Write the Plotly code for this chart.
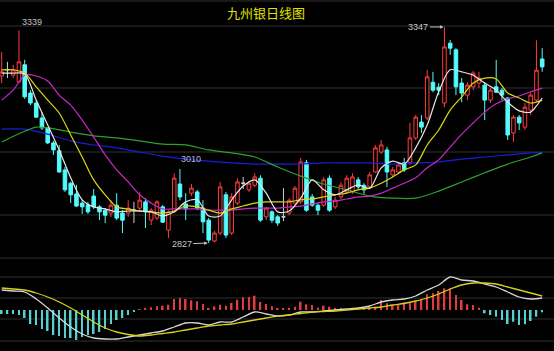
import plotly.graph_objects as go

# ---------------- data ----------------
IDX = list(range(95))
OPEN = [3229, 3244, 3231, 3215, 3256, 3188, 3164, 3128, 3104, 3068,
        3049, 3003, 2971, 2945, 2923, 2919, 2940, 2914, 2906, 2899,
        2918, 2899, 2899, 2906, 2911, 2926, 2882, 2887, 2914, 2858,
        2902, 2969, 2921, 2947, 2950, 2911, 2882, 2832, 2851, 2943,
        2851, 2923, 2971, 2955, 2966, 2983, 2890, 2902, 2890, 2890,
        2899, 2923, 2926, 3020, 2938, 2918, 2918, 2983, 2914, 2938,
        2950, 2950, 2979, 2966, 2962, 2998, 3046, 3051, 2991, 2998,
        3020, 3020, 3080, 3118, 3128, 3214, 3202, 3164, 3308, 3292,
        3212, 3183, 3203, 3212, 3207, 3171, 3203, 3195, 3176, 3092,
        3130, 3106, 3147, 3171, 3270]
HIGH = [3287, 3263, 3256, 3339, 3268, 3195, 3171, 3142, 3106, 3073,
        3063, 3010, 2974, 2967, 2931, 2926, 2957, 2918, 2911, 2930,
        2947, 2906, 2930, 2926, 2949, 2935, 2911, 2930, 2918, 2906,
        2995, 3005, 2947, 2969, 2955, 2930, 2887, 2856, 2974, 2950,
        2947, 2983, 2986, 2976, 2995, 2990, 2914, 2906, 2894, 2959,
        2935, 2964, 3032, 3027, 2945, 2923, 2986, 2990, 2938, 2974,
        2990, 2995, 2986, 2971, 2998, 3063, 3075, 3058, 3010, 3020,
        3032, 3116, 3135, 3135, 3244, 3239, 3212, 3347, 3316, 3296,
        3224, 3214, 3241, 3239, 3214, 3200, 3268, 3200, 3178, 3135,
        3135, 3164, 3190, 3315, 3296]
LOW = [3212, 3224, 3224, 3212, 3174, 3159, 3128, 3099, 3065, 3039,
       2996, 2950, 2923, 2914, 2897, 2897, 2909, 2882, 2875, 2890,
       2882, 2851, 2890, 2875, 2902, 2863, 2870, 2882, 2875, 2839,
       2899, 2930, 2882, 2940, 2906, 2851, 2827, 2829, 2846, 2839,
       2846, 2918, 2957, 2950, 2962, 2878, 2882, 2875, 2868, 2880,
       2894, 2918, 2921, 2902, 2914, 2894, 2914, 2902, 2909, 2933,
       2945, 2945, 2955, 2945, 2957, 2996, 3041, 2962, 2986, 2993,
       2998, 3015, 3075, 3092, 3123, 3190, 3183, 3154, 3280, 3183,
       3166, 3171, 3195, 3200, 3123, 3164, 3188, 3171, 3075, 3070,
       3099, 3099, 3135, 3166, 3239]
CLOSE = [3239, 3244, 3244, 3263, 3179, 3164, 3130, 3104, 3068, 3051,
         2998, 2955, 2943, 2916, 2914, 2902, 2914, 2902, 2894, 2918,
         2887, 2882, 2911, 2906, 2930, 2902, 2906, 2926, 2877, 2902,
         2983, 2938, 2909, 2959, 2911, 2878, 2834, 2851, 2962, 2846,
         2938, 2974, 2971, 2971, 2986, 2882, 2911, 2882, 2875, 2890,
         2930, 2959, 3022, 2906, 2918, 2906, 2979, 2906, 2930, 2966,
         2983, 2986, 2962, 2955, 2991, 3056, 3063, 2998, 3003, 3015,
         3003, 3080, 3130, 3106, 3227, 3195, 3195, 3299, 3296, 3203,
         3188, 3207, 3236, 3224, 3171, 3195, 3190, 3183, 3087, 3130,
         3116, 3154, 3183, 3243, 3251]

# moving averages (sampled along the lines)
MA5_X = list(range(0, 93, 2)) + [93, 94]
MA5 = [3236, 3236, 3234, 3171, 3111, 3051, 2984, 2931, 2914, 2909,
       2902, 2904, 2904, 2902, 2892, 2902, 2926, 2931, 2892, 2892,
       2931, 2964, 2979, 2947, 2902, 2904, 2935, 2979, 2955, 2943,
       2955, 2967, 2959, 3008, 3024, 3017, 3056, 3111, 3191, 3244,
       3239, 3231, 3212, 3195, 3166, 3145, 3142, 3157, 3176]
MA10_X = list(range(0, 95, 2))
MA10 = [3244, 3244, 3236, 3203, 3171, 3140, 3087, 3034, 2979, 2943,
        2914, 2909, 2904, 2902, 2899, 2904, 2916, 2914, 2906, 2899,
        2909, 2916, 2923, 2926, 2926, 2926, 2931, 2933, 2938, 2943,
        2947, 2955, 2959, 2971, 2986, 3003, 3015, 3063, 3099, 3147,
        3179, 3212, 3224, 3222, 3188, 3176, 3164, 3171]
MA20_X = list(range(0, 95, 2))
MA20 = [3171, 3195, 3231, 3229, 3217, 3183, 3159, 3123, 3082, 3039,
        3003, 2974, 2943, 2923, 2909, 2909, 2909, 2909, 2906, 2906,
        2906, 2909, 2911, 2911, 2911, 2914, 2916, 2921, 2926, 2928,
        2933, 2938, 2940, 2947, 2959, 2971, 2984, 3008, 3027, 3058,
        3089, 3116, 3142, 3162, 3174, 3181, 3191, 3200]
MA60_X = [0, 3, 6, 8, 12, 16, 20, 24, 28, 32, 36, 40, 44, 48, 52, 56, 60,
          64, 68, 72, 76, 80, 84, 88, 92, 94]
MA60 = [3070, 3090, 3106, 3104, 3094, 3085, 3080, 3073, 3065, 3063, 3051,
        3044, 3034, 3010, 2988, 2969, 2955, 2940, 2935, 2935, 2952, 2974,
        2996, 3017, 3034, 3044]
MA120_X = list(range(0, 93, 4)) + [94]
MA120 = [3101, 3101, 3089, 3073, 3063, 3056, 3046, 3036, 3029, 3024,
         3020, 3017, 3017, 3017, 3020, 3020, 3020, 3017, 3020, 3022,
         3029, 3034, 3039, 3044, 3046]

# MACD panel
MACD_HIST = [-4, -4, -4, -5, -8, -14, -15, -19, -21, -25,
             -26, -28, -28, -30, -27, -25, -24, -22, -19, -14,
             -10, -8, -5, -1.5, 0.5, 1.3, 2.7, 3.7, 4.3, 5.3,
             11, 12, 11, 9.7, 8.7, 6, 2, 3.7, 5.3, 4.3,
             7, 10.3, 12.7, 13, 14.3, 8, 6, 3.7, 2, 2,
             2, 3.3, 8.3, 5.7, 5, 2.3, 4.3, 3.3, 1.5, 1.5,
             1, 2, 1.5, 2, 2.5, 3.3, 10, 6.7, 5, 5,
             7.7, 6.7, 8.3, 10, 15.7, 16.7, 19, 21.7, 21.7, 15,
             10, 5.7, 5, 2.3, -3.3, -5, -6.7, -10, -14, -11.7,
             -15, -14.3, -11, -6.7, -2.3]
MACD_X = list(range(0, 95, 2))
DIF = [20, 19, 18, 11, 2, -8, -17, -24, -28, -29,
       -29, -27, -25, -23, -21, -17, -13, -13, -15, -12,
       -12, -7, -2, -4, -6, -5, -2, -2, -1, 0,
       1, 2, 4, 8, 10, 11, 14, 20, 25, 33,
       30, 29, 26, 23, 18, 13, 11, 12]
DEA = [22, 21, 20, 17, 13, 8, 2, -5, -12, -18,
       -22, -24.5, -26, -25, -23.5, -22, -20, -18, -16, -15,
       -14, -12, -10, -8, -6, -5, -3.5, -2, -1.5, -1,
       0, 1, 2, 3, 5, 6.5, 9, 12, 16, 21,
       25, 27, 27, 26, 23, 20, 17, 14]

TITLE = "九州银日线图"

# ---------------- styling ----------------
W, H = 554, 351
RED = "#ff3c3c"
CYAN = "#54fcfc"
GRID = "#303030"
MAIN_BOTTOM_PX = 258

fig = go.Figure()

reg = [i for i in IDX if OPEN[i] != CLOSE[i]]
doji = [i for i in IDX if OPEN[i] == CLOSE[i]]

fig.add_trace(go.Candlestick(
    x=[IDX[i] for i in reg], open=[OPEN[i] for i in reg], high=[HIGH[i] for i in reg],
    low=[LOW[i] for i in reg], close=[CLOSE[i] for i in reg],
    increasing=dict(line=dict(color=RED, width=1), fillcolor="#000000"),
    decreasing=dict(line=dict(color=CYAN, width=1), fillcolor=CYAN),
    xaxis="x", yaxis="y", showlegend=False, hoverinfo="skip"))
fig.add_trace(go.Candlestick(
    x=[IDX[i] for i in doji], open=[OPEN[i] for i in doji], high=[HIGH[i] for i in doji],
    low=[LOW[i] for i in doji], close=[CLOSE[i] for i in doji],
    increasing=dict(line=dict(color="#d0d0d0", width=1), fillcolor="#d0d0d0"),
    decreasing=dict(line=dict(color="#d0d0d0", width=1), fillcolor="#d0d0d0"),
    xaxis="x", yaxis="y", showlegend=False, hoverinfo="skip"))

for xs, ys, col in [(MA120_X, MA120, "#1c1cd8"), (MA60_X, MA60, "#2f9f2f"),
                    (MA20_X, MA20, "#c828c8"), (MA10_X, MA10, "#d8d810"),
                    (MA5_X, MA5, "#e6e6e6")]:
    fig.add_trace(go.Scatter(x=xs, y=ys, mode="lines",
                             line=dict(color=col, width=1.2, shape="spline", smoothing=0.8),
                             xaxis="x", yaxis="y", showlegend=False, hoverinfo="skip"))

pos_x = [i for i in IDX if MACD_HIST[i] >= 0]
neg_x = [i for i in IDX if MACD_HIST[i] < 0]
fig.add_trace(go.Bar(x=pos_x, y=[MACD_HIST[i] for i in pos_x], width=0.28,
                     marker=dict(color="#e03c3c", line=dict(width=0)),
                     xaxis="x2", yaxis="y2", showlegend=False, hoverinfo="skip"))
fig.add_trace(go.Bar(x=neg_x, y=[MACD_HIST[i] for i in neg_x], width=0.28,
                     marker=dict(color="#54d0d0", line=dict(width=0)),
                     xaxis="x2", yaxis="y2", showlegend=False, hoverinfo="skip"))
fig.add_trace(go.Scatter(x=MACD_X, y=DIF, mode="lines",
                         line=dict(color="#d6d6d6", width=1.3, shape="spline", smoothing=0.8),
                         xaxis="x2", yaxis="y2", showlegend=False, hoverinfo="skip"))
fig.add_trace(go.Scatter(x=MACD_X, y=DEA, mode="lines",
                         line=dict(color="#d2d21e", width=1.3, shape="spline", smoothing=0.8),
                         xaxis="x2", yaxis="y2", showlegend=False, hoverinfo="skip"))

# horizontal panel lines (pixel rows)
shapes = []
for ypx in [1, 26, 88, 152, 215, 258, 277, 298, 319, 341]:
    yp = 1 - ypx / H
    shapes.append(dict(type="line", xref="paper", yref="paper", x0=0, x1=1, y0=yp, y1=yp,
                       line=dict(color=GRID, width=1), layer="below"))

split = 1 - MAIN_BOTTOM_PX / H
x_range = [-1.7 / 5.75, (W - 1.7) / 5.75]

ann_font = dict(family="Liberation Sans, Arial", size=9, color="#c4c4c4")
annotations = [
    dict(text=TITLE, xref="paper", yref="paper", x=266 / W, y=1 - 13 / H,
         showarrow=False, xanchor="center", yanchor="middle",
         font=dict(family="Noto Sans CJK SC", size=13, color="#e0e000")),
    dict(text=str(HIGH[3]), x=3, y=HIGH[3], xref="x", yref="y", showarrow=False,
         xanchor="left", yanchor="bottom", xshift=1, yshift=1, font=ann_font),
    dict(text=str(HIGH[77]), x=77, y=HIGH[77], xref="x", yref="y", showarrow=True,
         ax=-26, ay=0, arrowhead=2, arrowsize=0.7, arrowwidth=1, arrowcolor="#c4c4c4",
         standoff=1, font=ann_font),
    dict(text=str(LOW[36]), x=36, y=LOW[36], xref="x", yref="y", showarrow=True,
         ax=-27, ay=1, arrowhead=2, arrowsize=0.7, arrowwidth=1, arrowcolor="#c4c4c4",
         standoff=1, font=ann_font),
    dict(text="3010", x=33, y=3010, xref="x", yref="y", showarrow=False,
         xanchor="center", yanchor="bottom", yshift=1,
         font=dict(family="Liberation Sans, Arial", size=9, color="#b8b8d8")),
]

axis_common = dict(showgrid=False, zeroline=False, showticklabels=False, ticks="",
                   showline=False, fixedrange=True)
fig.update_layout(
    width=W, height=H,
    margin=dict(l=0, r=0, t=0, b=0),
    paper_bgcolor="#000000", plot_bgcolor="#000000",
    showlegend=False, barmode="overlay", boxgap=0.12,
    xaxis=dict(domain=[0, 1], range=x_range, anchor="y", rangeslider=dict(visible=False),
               **axis_common),
    yaxis=dict(domain=[split, 1], range=[3412 - 2.4074 * MAIN_BOTTOM_PX, 3412], anchor="x",
               **axis_common),
    xaxis2=dict(domain=[0, 1], range=x_range, anchor="y2", matches="x", **axis_common),
    yaxis2=dict(domain=[0, split], range=[-41, 52], anchor="x2", **axis_common),
    shapes=shapes,
    annotations=annotations,
)

fig.write_html("out.html")
